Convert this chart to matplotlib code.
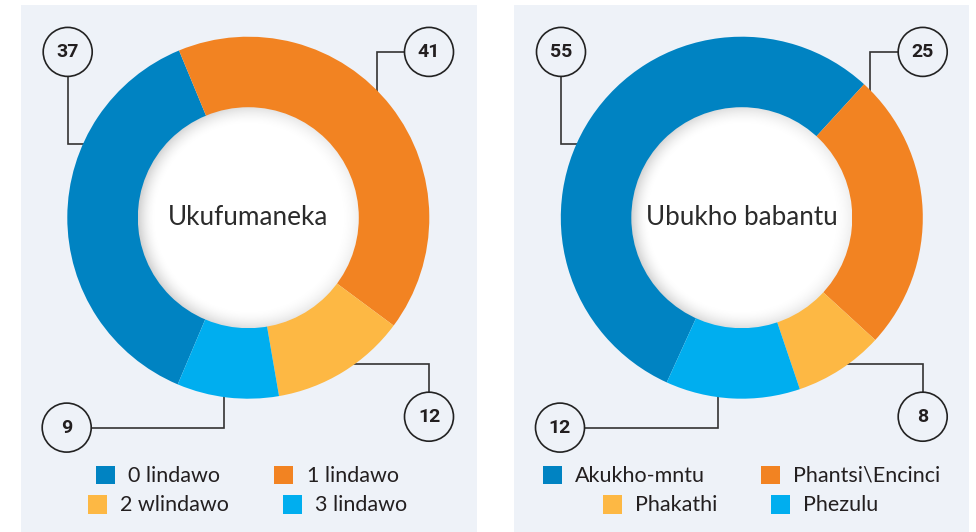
import numpy as np
import matplotlib.pyplot as plt
from matplotlib.patches import Rectangle, Circle

W, H = 976, 532

colors = ['#0083c2', '#f28322', '#fdb844', '#00aeef']
panel_bg = '#eef2f8'
ink = '#231f20'

# Ukufumaneka
avail_title = 'Ukufumaneka'
avail_labels = ['0 lindawo', '1 lindawo', '2 wlindawo', '3 lindawo']
avail_values = [37, 41, 12, 9]

# Ubukho babantu
crowd_title = 'Ubukho babantu'
crowd_labels = ['Akukho-mntu', 'Phantsi\\Encinci', 'Phakathi', 'Phezulu']
crowd_values = [55, 25, 8, 12]

plt.rcParams['font.family'] = ['Lato', 'DejaVu Sans']

fig = plt.figure(figsize=(W / 100, H / 100), dpi=100, facecolor='white')
ax = fig.add_axes([0, 0, 1, 1])


def Y(y):
    # layout numbers are measured from the top edge
    return H - y


def inner_disk(cx, cy, r):
    # white centre with a soft shadow along its rim, heavier on the left
    n = 400
    g = np.linspace(-1, 1, n)
    xx, yy = np.meshgrid(g, g)
    d = np.hypot(xx, yy)
    ang = np.arctan2(yy, xx)
    depth = 0.12 + 0.06 * np.cos(ang - np.pi)
    shade = 1 - depth * np.clip((d - 0.84) / 0.16, 0, 1) ** 1.8
    im = ax.imshow(shade, cmap='gray', vmin=0, vmax=1, zorder=4,
                   extent=(cx - r, cx + r, Y(cy) - r, Y(cy) + r), origin='lower')
    clip = Circle((cx, Y(cy)), r, transform=ax.transData)
    im.set_clip_path(clip)


def donut(values, title, cx, cy, start, callouts, legend):
    ax.pie(values, colors=colors, center=(cx, Y(cy)), radius=181,
           startangle=start, counterclock=False,
           wedgeprops=dict(width=80, linewidth=0, zorder=3))
    inner_disk(cx, cy, 110.5)
    ax.text(cx, Y(cy), title, ha='center', va='center', fontsize=18.8,
            color='#2b2b2b', zorder=5)

    for val, pts in zip(values, callouts):
        xs = [p[0] for p in pts]
        ys = [Y(p[1]) for p in pts]
        ax.plot(xs, ys, color='#333333', lw=1.2, zorder=2,
                solid_joinstyle='miter')
        bx, by = pts[0]
        ax.add_patch(Circle((bx, Y(by)), 24.5, facecolor=panel_bg,
                            edgecolor='#222222', lw=1.2, zorder=6))
        ax.text(bx, Y(by) - 0.5, str(val), ha='center', va='center',
                fontsize=14, fontweight='bold', family='Roboto',
                color=ink, zorder=7)

    for (sx, sy, tx), lab, col in zip(legend[0], legend[1], colors):
        ax.add_patch(Rectangle((sx, Y(sy + 18.5)), 19, 18.5,
                               facecolor=col, lw=0, zorder=3))
        ax.text(tx, Y(sy + 10), lab, ha='left', va='center',
                fontsize=15.5, color=ink, zorder=3)


ax.add_patch(Rectangle((21, 0), 455.7, H - 5, facecolor=panel_bg, lw=0, zorder=0))
ax.add_patch(Rectangle((514, 0), 455.3, H - 5, facecolor=panel_bg, lw=0, zorder=0))

# callout bubbles: first point is the bubble centre, then the leader line
avail_callouts = [
    [(67.7, 51.9), (67.7, 144.2), (90, 144.2)],
    [(429, 51.9), (376.7, 51.9), (376.7, 96)],
    [(429, 416.7), (429, 364.1), (348, 364.1)],
    [(66.7, 427.6), (224, 427.6), (224, 390)],
]
crowd_callouts = [
    [(561, 51.9), (561, 144.2), (584, 144.2)],
    [(922.7, 51.9), (870, 51.9), (870, 96)],
    [(922.7, 416.7), (922.7, 364.1), (843, 364.1)],
    [(560, 427.6), (717.7, 427.6), (717.7, 390)],
]

avail_legend = ([(96, 465.6, 128.3), (274, 465.6, 306.7),
                 (88.3, 495.4, 120), (283.3, 495.4, 315)], avail_labels)
crowd_legend = ([(543.3, 465.6, 575.3), (761, 465.6, 792.7),
                 (603.3, 495.4, 635), (771, 495.4, 803.3)], crowd_labels)

donut(avail_values, avail_title, 248.3, 217.7, 247.05, avail_callouts, avail_legend)
donut(crowd_values, crowd_title, 741.8, 217.7, 245.5, crowd_callouts, crowd_legend)

ax.set_xlim(0, W)
ax.set_ylim(0, H)
ax.set_aspect('auto')
ax.axis('off')

fig.savefig('out.png', dpi=100, facecolor='white')
